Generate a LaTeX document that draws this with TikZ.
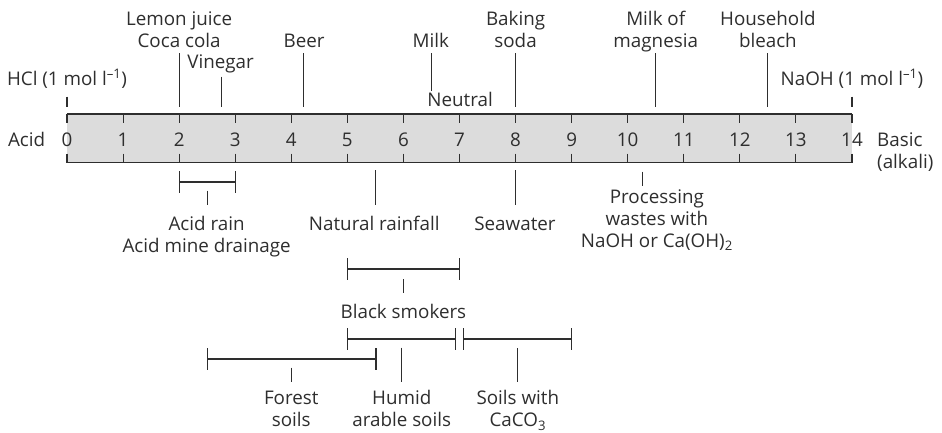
\documentclass[tikz,border=0pt]{standalone}
\usepackage{fontspec}
\setmainfont{Open Sans}
\definecolor{ink}{HTML}{2E2E2E}
\definecolor{barfill}{HTML}{DCDCDC}
\begin{document}
\begin{tikzpicture}[x=56.07bp, y=-1bp, line cap=butt,
	every node/.style={text=ink, inner sep=0pt, font=\fontsize{18.8bp}{22bp}\selectfont},
	lbl/.style={align=center, anchor=base},
	edge/.style={draw=ink, line width=1.8bp},
	lead/.style={draw=ink, line width=1.1bp},
	rng/.style={draw=ink, line width=1.8bp}]
				\useasboundingbox (-1.1949,0) rectangle (15.6054,432);
				
				% 1. pH bar with ticks and numbers
				\fill[barfill] (0,114) rectangle (14,162.5);
				\draw[edge] (0,114) -- (14,114);
				\draw[edge] (0,162.5) -- (14,162.5);
				\foreach \i in {0,...,14} {
					\draw[lead] (\i,114) -- (\i,123);
					\draw[lead] (\i,153.5) -- (\i,162.5);
					\node[lbl] (n\i) at (\i,146.25) {\i};
				}
				\node[lbl] (acid) at (-0.72,146.25) {Acid};
				\node[lbl, align=left, anchor=base west] (basic) at (14.446,168.25) {Basic\\(alkali)};
				
				% 2. substances above the bar (multi-line labels sit on their last line)
				\node[lbl] (hcl) at (0,85) {HCl (1 mol l\textsuperscript{–1})};
				\node[lbl] (lemon) at (2,47.7) {Lemon juice\\Coca cola};
				\node[lbl] (vinegar) at (2.74,68.3) {Vinegar};
				\node[lbl] (beer) at (4.23,47.7) {Beer};
				\node[lbl] (milk) at (6.49,47.7) {Milk};
				\node[lbl] (neutral) at (7.01,106) {Neutral};
				\node[lbl] (baking) at (8,47.7) {Baking\\soda};
				\node[lbl] (magnesia) at (10.5,47.7) {Milk of\\magnesia};
				\node[lbl] (bleach) at (12.5,47.7) {Household\\bleach};
				\node[lbl] (naoh) at (14,85) {NaOH (1 mol l\textsuperscript{–1})};
				
				% 3. waters and wastes below the bar
				\node[lbl] (rain) at (2.49,252.5) {Acid rain\\Acid mine drainage};
				\node[lbl] (natural) at (5.48,230.5) {Natural rainfall};
				\node[lbl] (seawater) at (7.99,230.5) {Seawater};
				\node[lbl] (processing) at (10.52,247) {Processing\\wastes with\\NaOH or Ca(OH)\textsubscript{2}};
				\node[lbl] (smokers) at (6,318.2) {Black smokers};
				
				% 4. soils
				\node[lbl] (forest) at (4,426.5) {Forest\\soils};
				\node[lbl] (humid) at (5.97,426.5) {Humid\\arable soils};
				\node[lbl] (soils) at (8.04,426.5) {Soils with\\CaCO\textsubscript{3}};
				
				% 5. ranges
				\foreach \a/\b/\y in {2/3/182, 5/7/269, 5/6.93/339, 7.07/9/339, 2.5/5.51/359} {
					\draw[rng] (\a,\y) -- (\b,\y);
					\draw[lead] (\a,\y-11) -- (\a,\y+11);
					\draw[lead] (\b,\y-11) -- (\b,\y+11);
				}
				
				% 6. leader lines
				\foreach \n/\x/\ya/\yb in {hcl/0/96.7/107, lemon/2/53.3/107, vinegar/2.75/76.7/107,
					beer/4.22/53.3/107, milk/6.5/53.3/90.7, baking/8/53.3/107, magnesia/10.5/53.3/107,
					bleach/12.5/53.3/107, naoh/14/96.7/107, rain/2.5/190.7/205, natural/5.5/170/205,
					seawater/8/170/205, processing/10.27/171.7/185.7, smokers/6/279/293,
					forest/4/367.7/382, humid/5.97/347.7/382, soils/8.04/348/382} {
					\coordinate (\n-t) at (\x,\ya);
					\coordinate (\n-b) at (\x,\yb);
					\draw[lead] (\n-t) -- (\n-b);
				}
			\end{tikzpicture}
\end{document}
